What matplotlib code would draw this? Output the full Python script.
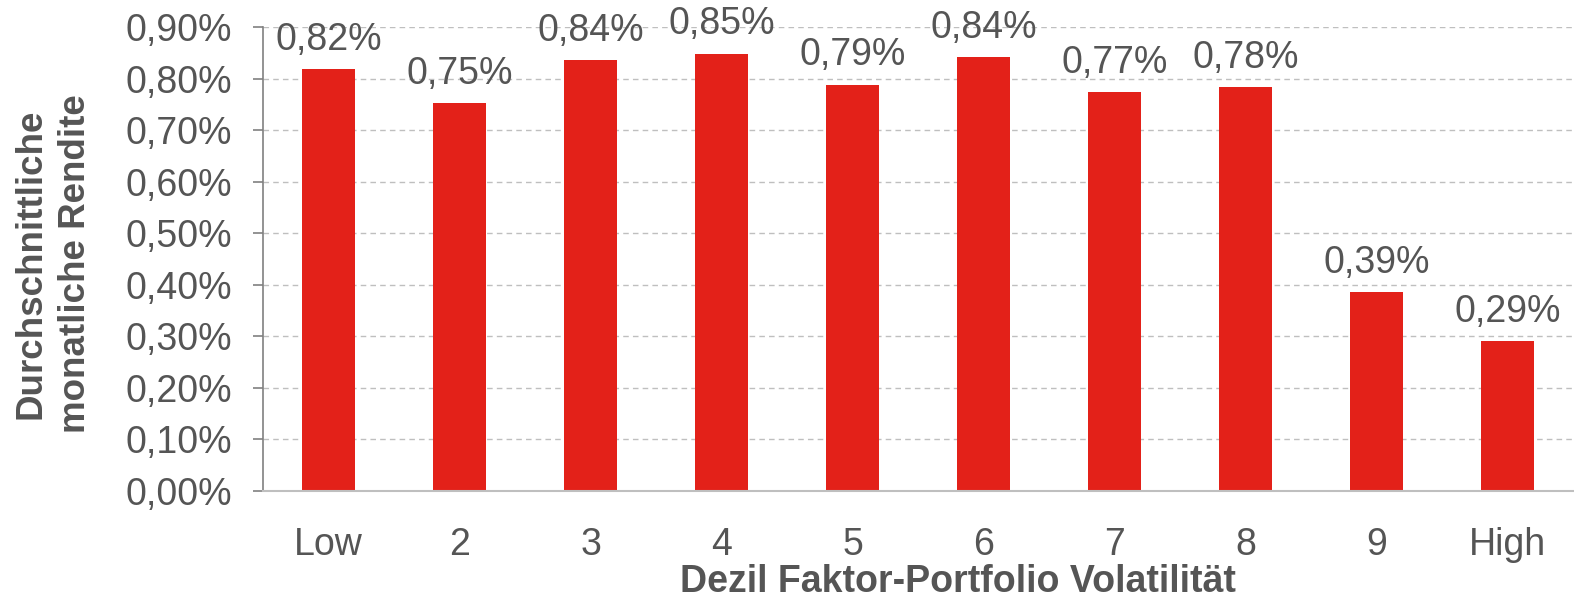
import matplotlib
matplotlib.use("Agg")
import matplotlib.pyplot as plt
from matplotlib.ticker import FuncFormatter

categories = ["Low", "2", "3", "4", "5", "6", "7", "8", "9", "High"]
values = [0.818, 0.752, 0.836, 0.848, 0.788, 0.842, 0.773, 0.783, 0.386, 0.291]
labels = ["0,82%", "0,75%", "0,84%", "0,85%", "0,79%", "0,84%", "0,77%", "0,78%", "0,39%", "0,29%"]
yticks = [0.0, 0.1, 0.2, 0.3, 0.4, 0.5, 0.6, 0.7, 0.8, 0.9]

plt.rcParams['font.family'] = ['Liberation Sans', 'DejaVu Sans']
txt = '#555555'

fig = plt.figure(figsize=(15.74, 6.01), dpi=100)
ax = fig.add_axes([263/1574, 1 - 491/601, 1310/1574, 464/601])

x = list(range(len(categories)))
ax.bar(x, values, width=0.4, color='#E32119', zorder=3)
for xi, v, lab in zip(x, values, labels):
    ax.text(xi, v + 0.022, lab, ha='center', va='bottom', fontsize=27, color=txt, zorder=4)

ax.set_xlim(-0.5, 9.5)
ax.set_ylim(0, 0.9)
ax.set_yticks(yticks)
ax.yaxis.set_major_formatter(FuncFormatter(lambda v, p: f"{v:.2f}%".replace('.', ',')))
ax.set_xticks(x)
ax.set_xticklabels(categories)
ax.tick_params(axis='y', labelsize=27, colors=txt, length=7, width=1.2, color='#808080', pad=15)
ax.tick_params(axis='x', labelsize=27, colors=txt, length=0, pad=26)
ax.grid(axis='y', linestyle=(0, (4, 3)), color='#BFBFBF', linewidth=1, zorder=0)
for s in ['top', 'right']:
    ax.spines[s].set_visible(False)
ax.spines['left'].set_color('#808080')
ax.spines['left'].set_linewidth(1.2)
ax.spines['bottom'].set_color('#BFBFBF')
ax.spines['bottom'].set_linewidth(1.5)
ax.spines['left'].set_zorder(5)
ax.spines['bottom'].set_zorder(5)

fig.text(958/1574, 1 - 592/601, "Dezil Faktor-Portfolio Volatilität", ha='center', va='baseline',
         fontsize=27, fontweight='bold', color=txt)
fig.text(53/1574, 1 - 264/601, "Durchschnittliche\nmonatliche Rendite", rotation=90, ha='center', va='center',
         fontsize=26.5, fontweight='bold', color=txt, linespacing=1.35)

fig.savefig("out.png", dpi=100)
